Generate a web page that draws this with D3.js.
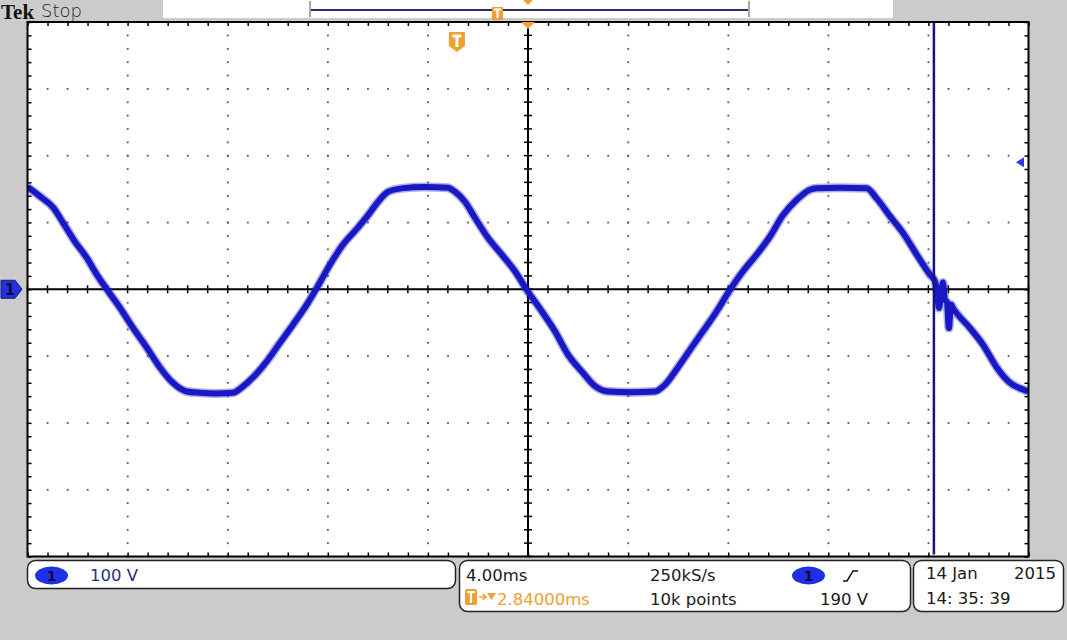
<!DOCTYPE html>
<html><head><meta charset="utf-8">
<script src="https://cdn.jsdelivr.net/npm/d3@7/dist/d3.min.js"></script>
<style>
html,body{margin:0;padding:0;background:#cbcbcb;overflow:hidden;}
svg{display:block;}
text{font-family:"DejaVu Sans",sans-serif;}
</style></head><body>
<svg id="c" width="1067" height="640"></svg>
<script>
const timeMs = [-20.00,-19.50,-18.97,-18.57,-18.10,-17.63,-17.23,-16.81,-16.30,-15.78,-15.24,-14.71,-14.19,-13.64,-13.11,-12.51,-11.79,-11.44,-10.99,-10.44,-9.91,-9.39,-8.84,-8.44,-7.91,-7.39,-6.85,-6.39,-5.99,-5.59,-5.05,-4.12,-3.20,-2.92,-2.52,-2.12,-1.60,-1.05,-0.52,-0.05,0.55,1.08,1.60,2.15,2.68,3.20,4.08,5.07,5.47,5.99,6.54,6.99,7.54,8.07,8.59,9.14,9.67,10.19,10.74,11.27,11.54,12.47,13.53,13.93,14.47,14.99,15.53,16.06,16.26,16.34,16.42,16.50,16.58,16.66,16.74,16.82,16.90,16.98,17.66,18.18,18.73,19.26,19.78,20.00];
const volts  = [153,139,122,99,71,47,22,-1,-28,-58,-87,-117,-140,-153,-155,-156,-155,-147,-132,-108,-80,-53,-23,2,37,67,90,111,131,146,151,153,152,146,131,107,77,52,27,-1,-33,-63,-98,-123,-145,-153,-154,-153,-143,-117,-87,-63,-33,-1,27,52,79,111,134,149,151,152,151,136,109,84,52,22,12,-1,-28,-10,10,-16,-19,-58,-23,-28,-58,-83,-117,-140,-150,-153];
const timeDomainMs = [-20, 20];      // 10 div x 4.00 ms
const voltDomain = [-400, 400];      // 8 div x 100 V
const majorTimeTicks = [-20,-16,-12,-8,-4,0,4,8,12,16,20];
const majorVoltTicks = [-400,-300,-200,-100,0,100,200,300,400];
const minorTimeStep = 0.8;
const minorVoltStep = 20;
const triggerPosMs = -2.84;
const triggerLevelV = 190;
const cursorMs = 16.22;
const scaleLabel = "100 V";
const horizLabels = ["4.00ms", "250kS/s", "10k points"];
const delayLabel = "2.84000ms";
const trigLabel = "190 V";
const dateLabels = ["14 Jan", "2015", "14: 35: 39"];

// ---- drawing ----
const svg = d3.select("#c");
const L = 27.5, R = 1028.5, T = 22, B = 556.5;
const x = d3.scaleLinear().domain(timeDomainMs).range([L, R]);
const y = d3.scaleLinear().domain(voltDomain).range([B, T]);
const blue = "#1818c4", orange = "#f0a030", navy = "#2c2c80";

// top bar
svg.append("text").attr("x", 1).attr("y", 19).text("Tek")
  .style("font-family", "'Liberation Serif',serif").style("font-weight", "bold").style("font-size", "21px").attr("fill", "#111");
svg.append("text").attr("x", 41).attr("y", 17).text("Stop")
  .style("font-size", "18px").style("font-weight", "300").attr("fill", "#222");
svg.append("rect").attr("x", 163).attr("y", 0).attr("width", 730).attr("height", 18).attr("fill", "#fff");
svg.append("line").attr("x1", 311).attr("x2", 748).attr("y1", 10).attr("y2", 10).attr("stroke", "#2c2a6e").attr("stroke-width", 2);
[310, 749].forEach(bx => svg.append("line").attr("x1", bx).attr("x2", bx).attr("y1", 1).attr("y2", 17).attr("stroke", "#a8a8a8").attr("stroke-width", 2));
// small trigger marker in record view
svg.append("rect").attr("x", 492).attr("y", 7).attr("width", 11).attr("height", 13).attr("rx", 1).attr("fill", orange);
svg.append("path").attr("d", "M494,9.5H501M497.5,9.5V18").attr("stroke", "#fff").attr("stroke-width", 2.2);
svg.append("path").attr("d", "M523,0H533L528,5Z").attr("fill", orange);

// plot area
svg.append("rect").attr("x", L).attr("y", T).attr("width", R - L).attr("height", B - T).attr("fill", "#fff");

const g = svg.append("g");
// grid dots
const minorT = d3.range(timeDomainMs[0], timeDomainMs[1] + 0.001, minorTimeStep);
const minorV = d3.range(voltDomain[0], voltDomain[1] + 0.001, minorVoltStep);
const gridT = majorTimeTicks.filter(t => t !== 0 && t !== timeDomainMs[0] && t !== timeDomainMs[1]);
const gridV = majorVoltTicks.filter(v => v !== 0 && v !== voltDomain[0] && v !== voltDomain[1]);
const dots = [];
gridT.forEach(t => minorV.forEach(v => dots.push([t, v])));
gridV.forEach(v => minorT.forEach(t => dots.push([t, v])));
g.selectAll("rect.dot").data(dots).join("rect").attr("class", "dot")
  .attr("x", d => x(d[0]) - 0.8).attr("y", d => y(d[1]) - 0.8).attr("width", 1.8).attr("height", 1.8).attr("fill", "#555");

// center axes with ticks
const cx = g.append("g").attr("transform", `translate(0,${y(0)})`);
cx.append("line").attr("x1", L).attr("x2", R).attr("stroke", "#000").attr("stroke-width", 2);
cx.selectAll("line.tk").data(minorT).join("line").attr("class", "tk")
  .attr("x1", d => x(d)).attr("x2", d => x(d)).attr("y1", -4).attr("y2", 4).attr("stroke", "#000").attr("stroke-width", 1.5);
const cy = g.append("g").attr("transform", `translate(${x(0)},0)`);
cy.append("line").attr("y1", T).attr("y2", B).attr("stroke", "#000").attr("stroke-width", 2);
cy.selectAll("line.tk").data(minorV).join("line").attr("class", "tk")
  .attr("y1", d => y(d)).attr("y2", d => y(d)).attr("x1", -4).attr("x2", 4).attr("stroke", "#000").attr("stroke-width", 1.5);

// border ticks via d3 axes
g.append("g").attr("transform", `translate(0,${T})`).call(d3.axisBottom(x).tickValues(minorT).tickSize(4).tickFormat(""))
  .call(s => s.select(".domain").remove()).selectAll("line").attr("stroke-width", 1.5);
g.append("g").attr("transform", `translate(0,${B})`).call(d3.axisTop(x).tickValues(minorT).tickSize(4).tickFormat(""))
  .call(s => s.select(".domain").remove()).selectAll("line").attr("stroke-width", 1.5);
g.append("g").attr("transform", `translate(${L},0)`).call(d3.axisRight(y).tickValues(minorV).tickSize(4).tickFormat(""))
  .call(s => s.select(".domain").remove()).selectAll("line").attr("stroke-width", 1.5);
g.append("g").attr("transform", `translate(${R},0)`).call(d3.axisLeft(y).tickValues(minorV).tickSize(4).tickFormat(""))
  .call(s => s.select(".domain").remove()).selectAll("line").attr("stroke-width", 1.5);

// trace
svg.append("clipPath").attr("id", "clip").append("rect").attr("x", L).attr("y", T).attr("width", R - L).attr("height", B - T);
const pts = timeMs.map((t, i) => [t, volts[i]]);
const lineGen = d3.line().x(d => x(d[0])).y(d => y(d[1])).curve(d3.curveMonotoneX);
svg.append("path").datum(pts).attr("clip-path", "url(#clip)").attr("d", lineGen)
  .attr("fill", "none").attr("stroke", blue).attr("stroke-opacity", 0.35).attr("stroke-width", 9).attr("stroke-linejoin", "round");
svg.append("path").datum(pts).attr("clip-path", "url(#clip)").attr("d", lineGen)
  .attr("fill", "none").attr("stroke", blue).attr("stroke-width", 6).attr("stroke-linejoin", "round");

// cursor
svg.append("line").attr("x1", x(cursorMs)).attr("x2", x(cursorMs)).attr("y1", T).attr("y2", B - 2)
  .attr("stroke", "#15157c").attr("stroke-width", 2.5);

// border
svg.append("rect").attr("x", L).attr("y", T).attr("width", R - L).attr("height", B - T)
  .attr("fill", "none").attr("stroke", "#000").attr("stroke-width", 2);

// trigger position markers
const tx = x(triggerPosMs);
svg.append("path").attr("d", `M${x(0) - 7},${T}H${x(0) + 7}L${x(0)},${T + 7}Z`).attr("fill", orange);
svg.append("path").attr("d", `M${tx - 8},32H${tx + 8}V46L${tx},52L${tx - 8},46Z`).attr("fill", orange);
svg.append("path").attr("d", `M${tx - 4.5},36H${tx + 4.5}M${tx},36V47`).attr("stroke", "#fff").attr("stroke-width", 3);

// trigger level marker (right)
const ty = y(triggerLevelV);
svg.append("path").attr("d", `M1016,${ty}L1024,${ty - 5}V${ty + 5}Z`).attr("fill", "#2a3ae0");

// channel 1 ground marker (left)
const gy = y(0);
svg.append("path").attr("d", `M1,${gy - 9}H15L22,${gy}L15,${gy + 9}H1Z`).attr("fill", "#2233dd").attr("stroke", "#1a1a70").attr("stroke-width", 1);
svg.append("text").attr("x", 10).attr("y", gy + 6).attr("text-anchor", "middle").text("1")
  .style("font-size", "15px").style("font-weight", "bold").attr("fill", "#0a0a40");

// bottom readouts
const box = (bx, by, w, h) => svg.append("rect").attr("x", bx).attr("y", by).attr("width", w).attr("height", h)
  .attr("rx", 8).attr("fill", "#fff").attr("stroke", "#222").attr("stroke-width", 1.5);
box(27.5, 560.5, 428, 28);
box(459.5, 560.5, 451, 51);
box(913.5, 560.5, 150, 51);
const pill = (px, py) => {
  svg.append("ellipse").attr("cx", px).attr("cy", py).attr("rx", 16.5).attr("ry", 9).attr("fill", "#1f30e6");
  svg.append("text").attr("x", px).attr("y", py + 5).attr("text-anchor", "middle").text("1")
    .style("font-size", "14px").style("font-weight", "bold").attr("fill", "#0a0a40");
};
pill(51.5, 575.5);
pill(808.5, 575.5);
const txt = (tx_, ty_, s, col, anchor) => svg.append("text").attr("x", tx_).attr("y", ty_).text(s)
  .attr("text-anchor", anchor || "start").style("font-size", "16.5px").attr("fill", col);
txt(90, 581, scaleLabel, navy);
txt(466, 581, horizLabels[0], "#1a1a1a");
txt(650, 581, horizLabels[1], "#1a1a1a");
txt(650, 605, horizLabels[2], "#1a1a1a");
txt(820, 605, trigLabel, "#1a1a1a");
// rising edge symbol
svg.append("path").attr("d", "M843,581H847L853,571H858").attr("fill", "none").attr("stroke", "#111").attr("stroke-width", 1.5);
// delay readout
svg.append("rect").attr("x", 465).attr("y", 589).attr("width", 12).attr("height", 16).attr("rx", 1.5).attr("fill", orange);
svg.append("path").attr("d", "M467,592H475M471,592V603").attr("stroke", "#fff").attr("stroke-width", 2.2);
svg.append("path").attr("d", "M479,597H485M482.5,594L486,597L482.5,600").attr("fill", "none").attr("stroke", orange).attr("stroke-width", 1.6);
svg.append("path").attr("d", "M487,593H496L491.5,600Z").attr("fill", orange);
txt(497, 605, delayLabel, orange);
// date
txt(926, 579, dateLabels[0], "#1a1a1a");
txt(1056, 579, dateLabels[1], "#1a1a1a", "end");
txt(926, 604, dateLabels[2], "#1a1a1a");
</script>
</body></html>
